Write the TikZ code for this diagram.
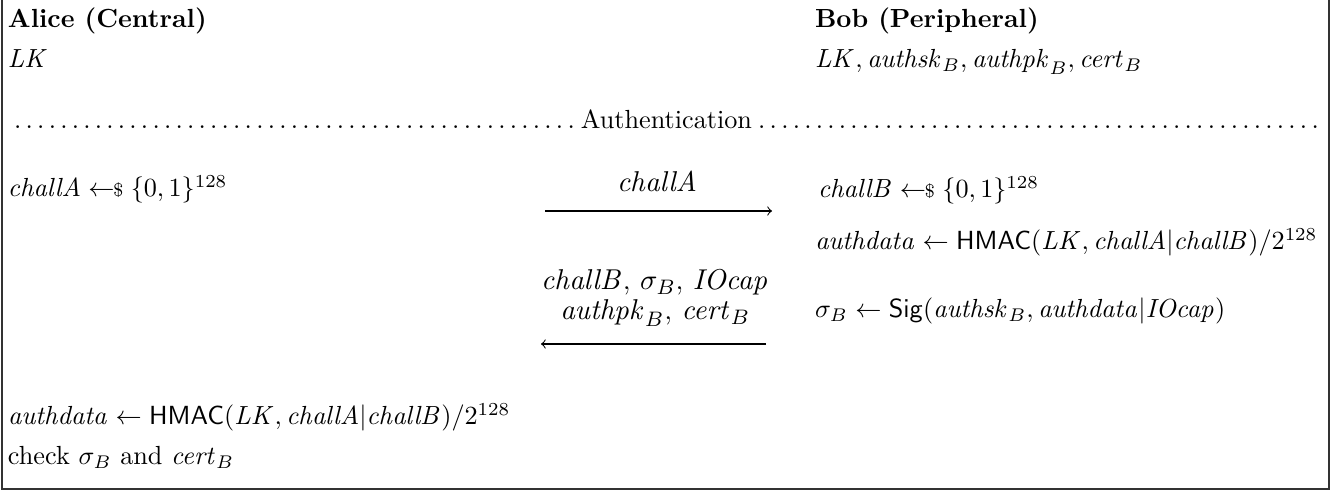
\documentclass[tikz,border=0pt]{standalone}
\usepackage{amsmath,amssymb}
\newcommand{\smpl}{\mathrel{\leftarrow\!\!{\scriptstyle\$}}}
\begin{document}
\begin{tikzpicture}[x=0.3817pt,y=-0.3817pt,
  txt/.style={anchor=base west,inner sep=0pt,outer sep=0pt},
  lbl/.style={anchor=base,inner sep=0pt,outer sep=0pt,font=\fontsize{11}{13}\selectfont},
  msg/.style={->,line width=0.4pt},
  frame/.style={line width=0.6pt,draw=black!80}]
\useasboundingbox (0,0) rectangle (1335,492);
\draw[frame] (2,0) -- (2,489) -- (1329,489) -- (1329,0);
\node[txt] (aliceH) at (8,28) {\textbf{Alice (Central)}};
\node[txt] (bobH) at (815,28) {\textbf{Bob (Peripheral)}};
\node[txt] (aliceK) at (8,68) {$\mathit{LK}$};
\node[txt] (bobK) at (815,68) {$\mathit{LK}, \mathit{authsk}_B, \mathit{authpk}_B, \mathit{cert}_B$};
\node[txt] (phase) at (8,129) {\makebox[502.7pt]{\dotfill Authentication\dotfill}};
\node[txt] (sampleA) at (8,197) {$\mathit{challA} \smpl \{0,1\}^{128}$};
\node[lbl] (m1) at (657,192) {$\mathit{challA}$};
\coordinate (a1s) at (545,211);
\coordinate (a1e) at (772,211);
\draw[msg] (a1s) -- (a1e);
\node[txt] (sampleB) at (818,198) {$\mathit{challB} \smpl \{0,1\}^{128}$};
\node[txt] (authB) at (815,250) {$\mathit{authdata} \leftarrow \mathsf{HMAC}(\mathit{LK}, \mathit{challA}|\mathit{challB})/2^{128}$};
\node[txt] (sigB) at (815,318) {$\sigma_B \leftarrow \mathsf{Sig}(\mathit{authsk}_B, \mathit{authdata}|\mathit{IOcap})$};
\node[lbl] (m2a) at (655,290) {$\mathit{challB}$, $\sigma_B$, $\mathit{IOcap}$};
\node[lbl] (m2b) at (655,320) {$\mathit{authpk}_B$, $\mathit{cert}_B$};
\coordinate (a2s) at (766,344);
\coordinate (a2e) at (541,344);
\draw[msg] (a2s) -- (a2e);
\node[txt] (authA) at (8,425) {$\mathit{authdata} \leftarrow \mathsf{HMAC}(\mathit{LK}, \mathit{challA}|\mathit{challB})/2^{128}$};
\node[txt] (check) at (8,465) {check $\sigma_B$ and $\mathit{cert}_B$};
\end{tikzpicture}
\end{document}
